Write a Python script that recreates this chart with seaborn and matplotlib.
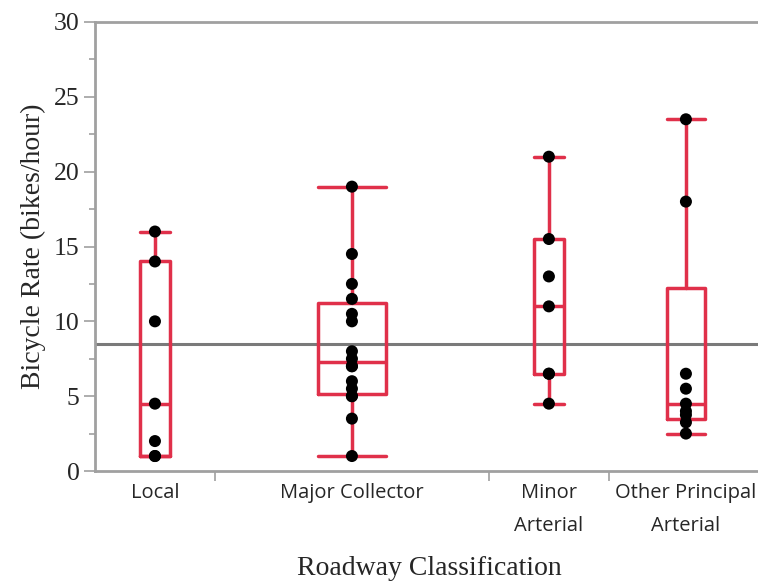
import numpy as np
import pandas as pd
import matplotlib
matplotlib.use("Agg")
import matplotlib.pyplot as plt
import seaborn as sns
from matplotlib.ticker import FixedLocator, MultipleLocator

# ---- data ----
categories = ["Local", "Major Collector", "Minor Arterial", "Other Principal Arterial"]
tick_labels = ["Local", "Major Collector", "Minor\nArterial", "Other Principal\nArterial"]
local = [1, 1, 2, 4.5, 10, 14, 16]
major_collector = [1, 3.5, 5, 5, 5.5, 6, 7, 7, 7.5, 8, 10, 10.5, 11.5, 12.5, 14.5, 19]
minor_arterial = [4.5, 6.5, 6.5, 11, 13, 15.5, 21]
other_principal = [2.5, 3.25, 3.75, 4, 4.5, 5.5, 6.5, 18, 23.5]
y_ticks = [0, 5, 10, 15, 20, 25, 30]

groups = [local, major_collector, minor_arterial, other_principal]

# JMP-style layout: segment width proportional to sample size
counts = np.array([len(g) for g in groups])
bounds = np.concatenate([[0], np.cumsum(counts)])
centers = (bounds[:-1] + bounds[1:]) / 2
box_widths = 0.25 * counts

RED = "#E0304A"
GRID = "#a0a0a0"

sns.set_style("white")
plt.rcParams["font.family"] = ["Liberation Serif", "DejaVu Serif"]

fig = plt.figure(figsize=(7.58, 5.88), dpi=100)
ax = fig.add_axes([95 / 758, 117 / 588, (763 - 95) / 758, 449 / 588])

# box statistics with JMP-style (weibull) quantiles
stats = []
for g in groups:
    a = np.asarray(g, dtype=float)
    q1, med, q3 = np.percentile(a, [25, 50, 75], method="weibull")
    iqr = q3 - q1
    lo = a[a >= q1 - 1.5 * iqr].min()
    hi = a[a <= q3 + 1.5 * iqr].max()
    stats.append(dict(med=med, q1=q1, q3=q3, whislo=lo, whishi=hi, fliers=[]))

lp = dict(color=RED, linewidth=2.5)
ax.bxp(stats, positions=centers, widths=box_widths, capwidths=box_widths,
       showfliers=False, manage_ticks=False,
       boxprops=lp, medianprops=lp, whiskerprops=lp, capprops=lp, zorder=3)

df = pd.DataFrame({
    "category": np.repeat(categories, counts),
    "xpos": np.repeat(centers, counts),
    "value": np.concatenate(groups),
})
sns.scatterplot(data=df, x="xpos", y="value", color="black", s=75,
                edgecolor="none", linewidth=0, zorder=5, ax=ax, legend=False)

grand_mean = df["value"].mean()
ax.axhline(grand_mean, color="#7a7a7a", linewidth=2.2, zorder=2)

ax.set_xlim(0, bounds[-1])
ax.set_ylim(0, 30)
ax.set_yticks(y_ticks)
ax.yaxis.set_minor_locator(MultipleLocator(2.5))
ax.tick_params(axis="y", which="major", length=8, width=1.2, color=GRID,
               labelsize=18.5, pad=3, left=True)
ax.tick_params(axis="y", which="minor", length=4, width=1.2, color=GRID, left=True)

ax.xaxis.set_major_locator(FixedLocator(bounds[1:-1]))
ax.xaxis.set_major_formatter(plt.NullFormatter())
ax.xaxis.set_minor_locator(FixedLocator(centers))
ax.set_xticklabels(tick_labels, minor=True)
ax.tick_params(axis="x", which="major", length=7, width=1.2, color=GRID, bottom=True)
ax.tick_params(axis="x", which="minor", length=0, pad=8.5, bottom=True)
for t in ax.get_xticklabels(minor=True):
    t.set_fontfamily(["Open Sans", "DejaVu Sans"])
    t.set_fontsize(14.5)
    t.set_linespacing(1.85)
    t.set_verticalalignment("top")

ax.set_xlabel("Roadway Classification", fontsize=20, labelpad=10)
ax.set_ylabel("Bicycle Rate (bikes/hour)", fontsize=20, labelpad=6)
ax.xaxis.set_label_coords(0.5, -0.19)

for side in ["left", "bottom", "top"]:
    ax.spines[side].set_color(GRID)
    ax.spines[side].set_linewidth(2)
ax.spines["right"].set_visible(False)

fig.savefig("out.png", dpi=100)
